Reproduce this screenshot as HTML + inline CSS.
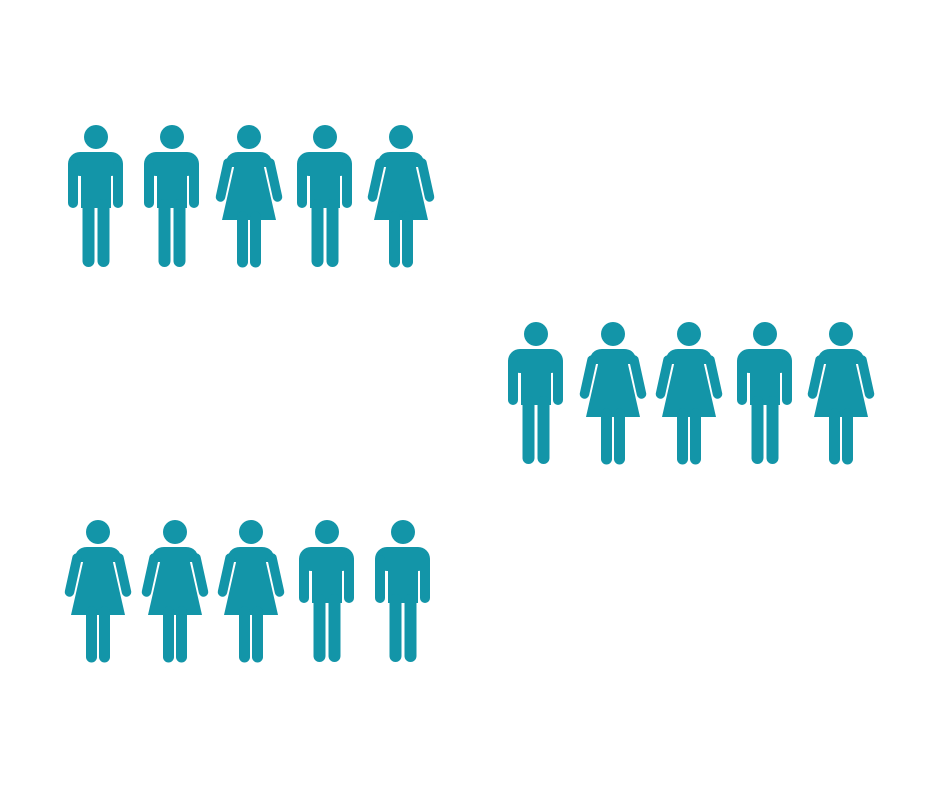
<!DOCTYPE html>
<html><head><style>html,body{margin:0;padding:0;background:#fff}svg{display:block}</style></head>
<body>
<svg width="940" height="787" viewBox="0 0 940 787" xmlns="http://www.w3.org/2000/svg">
<defs>
<g id="m" fill="#1395a8" stroke="#1395a8">
<circle cx="0" cy="12" r="12" stroke="none"/>
<rect x="-28" y="27" width="55" height="24" rx="12" stroke="none"/>
<rect x="-15" y="35" width="30" height="48" stroke="none"/>
<line x1="-23" y1="40" x2="-23" y2="78" stroke-width="10" stroke-linecap="round"/>
<line x1="22" y1="40" x2="22" y2="78" stroke-width="10" stroke-linecap="round"/>
<line x1="-7.5" y1="80" x2="-7.5" y2="136" stroke-width="12" stroke-linecap="round"/>
<line x1="7.5" y1="80" x2="7.5" y2="136" stroke-width="12" stroke-linecap="round"/>
</g>
<g id="w" fill="#1395a8" stroke="#1395a8">
<circle cx="0" cy="12" r="12" stroke="none"/>
<path d="M-24 42 Q-23 27 -11 27 H11 Q23 27 24 42 Z" stroke="none"/>
<path d="M-14 38 H14 L27 95 H-27 Z" stroke="none"/>
<line x1="-21" y1="38" x2="-28.5" y2="72" stroke-width="9.5" stroke-linecap="round"/>
<line x1="21" y1="38" x2="28.5" y2="72" stroke-width="9.5" stroke-linecap="round"/>
<line x1="-6.5" y1="92" x2="-6.5" y2="137" stroke-width="11" stroke-linecap="round"/>
<line x1="6.5" y1="92" x2="6.5" y2="137" stroke-width="11" stroke-linecap="round"/>
</g>
</defs>
<use href="#m" x="96" y="125"/><use href="#m" x="172" y="125"/><use href="#w" x="249" y="125"/><use href="#m" x="325" y="125"/><use href="#w" x="401" y="125"/>
<use href="#m" x="536" y="322"/><use href="#w" x="613" y="322"/><use href="#w" x="689" y="322"/><use href="#m" x="765" y="322"/><use href="#w" x="841" y="322"/>
<use href="#w" x="98" y="520"/><use href="#w" x="175" y="520"/><use href="#w" x="251" y="520"/><use href="#m" x="327" y="520"/><use href="#m" x="403" y="520"/>
</svg>
</body></html>
